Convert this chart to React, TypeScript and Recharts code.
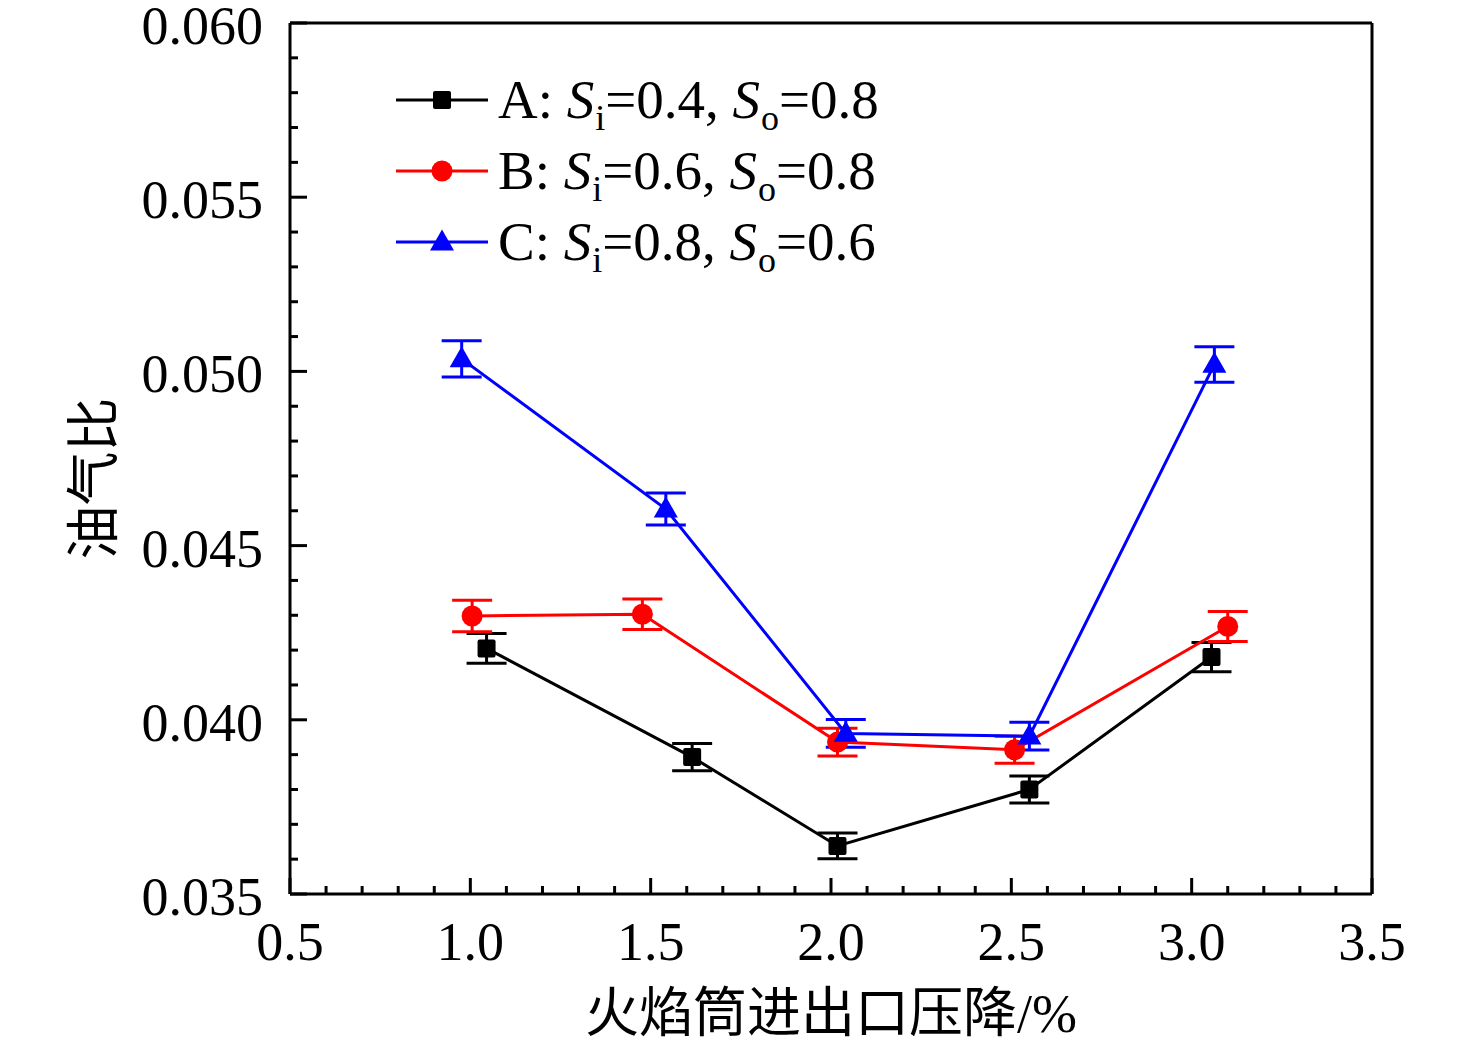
import React from 'react';
import { LineChart, Line, XAxis, YAxis, ErrorBar, ReferenceLine, Legend } from 'recharts';

const FONT = '"Liberation Serif", "Times New Roman", "Noto Sans CJK SC", serif';

// pressure drop (x) per series
const xA = [1.045, 1.615, 2.018, 2.55, 3.055];
const xB = [1.005, 1.477, 2.018, 2.509, 3.1];
const xC = [0.976, 1.542, 2.041, 2.55, 3.063];

// fuel-air ratio values
const yA = [0.04205, 0.03893, 0.03638, 0.038, 0.0418];
const yB = [0.04298, 0.04303, 0.03936, 0.03914, 0.04268];
const yC = [0.05036, 0.04605, 0.03961, 0.03953, 0.0502];

// error bar half-heights
const eA = [0.00043, 0.00039, 0.00037, 0.00039, 0.00042];
const eB = [0.00045, 0.00044, 0.0004, 0.00039, 0.00043];
const eC = [0.00052, 0.00046, 0.0004, 0.0004, 0.00051];

const seriesLabels = [
  { name: 'A', si: '0.4', so: '0.8' },
  { name: 'B', si: '0.6', so: '0.8' },
  { name: 'C', si: '0.8', so: '0.6' },
];
const colors = ['#000000', '#ff0000', '#0000ff'];
const shapes = ['square', 'circle', 'triangle'];

const xMajor = ['0.5', '1.0', '1.5', '2.0', '2.5', '3.0', '3.5'];
const yMajor = ['0.035', '0.040', '0.045', '0.050', '0.055', '0.060'];

// minor ticks every 0.1 / 0.001
const xTicks: number[] = [];
for (let i = 5; i <= 35; i++) xTicks.push(i / 10);
const yTicks: number[] = [];
for (let i = 35; i <= 60; i++) yTicks.push(i / 1000);

const build = (xs: number[], ys: number[], es: number[]) =>
  xs.map((x, i) => ({ x, y: ys[i], err: es[i] }));

const dataA = build(xA, yA, eA);
const dataB = build(xB, yB, eB);
const dataC = build(xC, yC, eC);

const Marker = ({ cx, cy, shape, color, size = 1 }: any) => {
  if (shape === 'square') {
    const s = 18 * size;
    return <rect x={cx - s / 2} y={cy - s / 2} width={s} height={s} rx={2} fill={color} />;
  }
  if (shape === 'circle') {
    return <circle cx={cx} cy={cy} r={10.5 * size} fill={color} />;
  }
  const w = 24 * size;
  const h = 21 * size;
  return (
    <polygon
      points={`${cx},${cy - h * 0.6} ${cx - w / 2},${cy + h * 0.4} ${cx + w / 2},${cy + h * 0.4}`}
      fill={color}
    />
  );
};

const makeDot = (shape: string, color: string) => (p: any) => (
  <Marker key={`d-${shape}-${p.index}`} cx={p.cx} cy={p.cy} shape={shape} color={color} />
);

const XTick = (props: any) => {
  const { x, y, payload } = props;
  const v = payload.value;
  const major = Math.abs(v * 2 - Math.round(v * 2)) < 1e-6;
  return (
    <g>
      <line x1={x} y1={y} x2={x} y2={y - (major ? 16 : 8)} stroke="#000" strokeWidth={3} />
      {major && (
        <text x={x} y={y + 48} textAnchor="middle" dominantBaseline="central" fontSize={54} fontFamily={FONT} fill="#000">
          {xMajor.find((t) => Math.abs(Number(t) - v) < 1e-6)}
        </text>
      )}
    </g>
  );
};

const YTick = (props: any) => {
  const { x, y, payload } = props;
  const v = payload.value;
  const major = Math.abs(v * 200 - Math.round(v * 200)) < 1e-6;
  return (
    <g>
      <line x1={x} y1={y} x2={x + (major ? 17 : 8)} y2={y} stroke="#000" strokeWidth={3} />
      {major && (
        <text x={x - 27} y={y + 3} textAnchor="end" dominantBaseline="central" fontSize={54} fontFamily={FONT} fill="#000">
          {yMajor.find((t) => Math.abs(Number(t) - v) < 1e-7)}
        </text>
      )}
    </g>
  );
};

const LegendBox = () => (
  <svg width={520} height={215} style={{ overflow: 'visible' }}>
    {seriesLabels.map((s, i) => {
      const cy = 35 + i * 71;
      return (
        <g key={s.name}>
          <line x1={6} y1={cy} x2={98} y2={cy} stroke={colors[i]} strokeWidth={3} />
          <Marker cx={52} cy={cy} shape={shapes[i]} color={colors[i]} />
          <text x={108} y={cy + 18} fontSize={55} fontFamily={FONT} fill="#000">
            <tspan>{`${s.name}: `}</tspan>
            <tspan fontStyle="italic">S</tspan>
            <tspan fontSize={36} dy={12} dx={1}>i</tspan>
            <tspan dy={-12}>{`=${s.si}, `}</tspan>
            <tspan fontStyle="italic">S</tspan>
            <tspan fontSize={36} dy={12} dx={1}>o</tspan>
            <tspan dy={-12}>{`=${s.so}`}</tspan>
          </text>
        </g>
      );
    })}
  </svg>
);

const seriesData = [dataA, dataB, dataC];

export default function App() {
  return (
    <div style={{ position: 'absolute', left: 0, top: 0, background: '#fff' }}>
      <LineChart width={1476} height={1045} margin={{ top: 23, right: 104, left: 0, bottom: 0 }}>
        <XAxis
          type="number"
          dataKey="x"
          domain={[0.5, 3.5]}
          ticks={xTicks}
          interval={0}
          allowDataOverflow
          height={151}
          tickSize={0}
          tickMargin={0}
          tickLine={false}
          tick={<XTick />}
          axisLine={{ stroke: '#000', strokeWidth: 3 }}
          label={{
            content: (p: any) => {
              const vb = p.viewBox;
              return (
                <text x={vb.x + vb.width / 2} y={vb.y + 120} textAnchor="middle" dominantBaseline="central" fontSize={54} fontFamily={FONT} fill="#000">
                  火焰筒进出口压降/%
                </text>
              );
            },
          }}
        />
        <YAxis
          type="number"
          domain={[0.035, 0.06]}
          ticks={yTicks}
          interval={0}
          allowDataOverflow
          width={290}
          tickSize={0}
          tickMargin={0}
          tickLine={false}
          tick={<YTick />}
          axisLine={{ stroke: '#000', strokeWidth: 3 }}
          label={{
            content: (p: any) => {
              const vb = p.viewBox;
              const cx = vb.x + 95;
              const cy = vb.y + vb.height / 2 + 20;
              return (
                <text x={cx} y={cy} transform={`rotate(-90 ${cx} ${cy})`} textAnchor="middle" dominantBaseline="central" fontSize={54} fontFamily={FONT} fill="#000">
                  油气比
                </text>
              );
            },
          }}
        />
        <ReferenceLine y={0.06} stroke="#000" strokeWidth={3} />
        <ReferenceLine x={3.5} stroke="#000" strokeWidth={3} />
        {seriesData.map((d, i) => (
          <Line
            key={seriesLabels[i].name}
            data={d}
            dataKey="y"
            type="linear"
            stroke={colors[i]}
            strokeWidth={3}
            dot={makeDot(shapes[i], colors[i])}
            activeDot={false}
            legendType="none"
            isAnimationActive={false}
          >
            <ErrorBar dataKey="err" direction="y" width={20} stroke={colors[i]} strokeWidth={3} isAnimationActive={false} />
          </Line>
        ))}
        <Legend
          content={<LegendBox />}
          layout="horizontal"
          verticalAlign="middle"
          align="center"
          wrapperStyle={{ left: 390, top: 65, width: 520, height: 215 }}
        />
      </LineChart>
    </div>
  );
}
